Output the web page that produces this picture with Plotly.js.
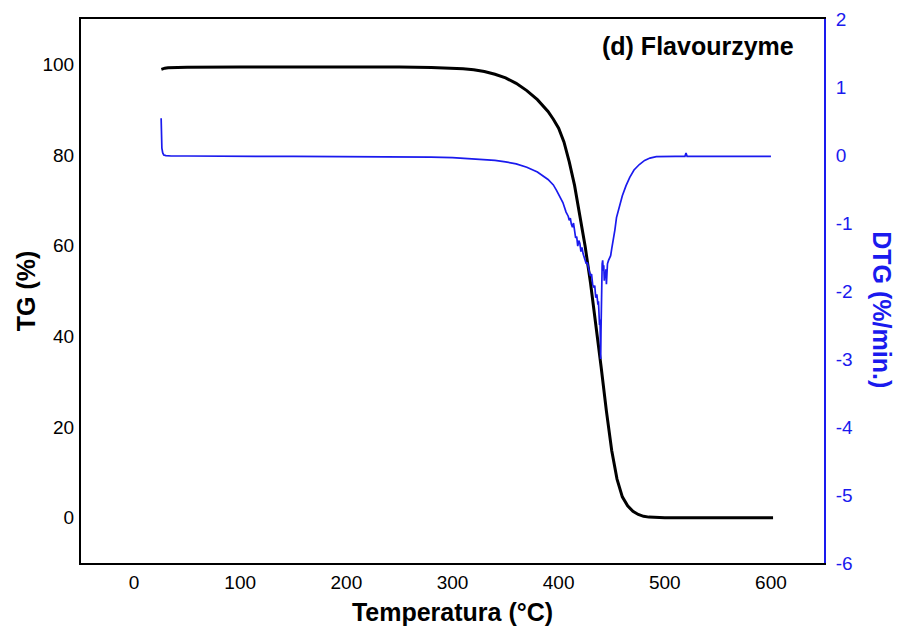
<!DOCTYPE html>
<html>
<head>
<meta charset="utf-8">
<script src="https://cdn.plot.ly/plotly-3.0.1.min.js"></script>
<style>html,body{margin:0;padding:0;background:#fff;}#chart{width:898px;height:637px;}</style>
</head>
<body>
<div id="chart"></div>
<script>
// TG curve (temperature °C, mass %)
const tgTemp = [25.7, 27, 29, 32, 36, 50, 100, 150, 200, 250, 280, 300, 310, 320, 330, 340, 350, 360, 370, 380, 385, 390, 395, 400, 405, 410, 415, 420, 425, 430, 435, 440, 445, 450, 455, 460, 465, 470, 475, 480, 485, 490, 500, 550, 602];
const tgVal  = [98.9, 99.05, 99.15, 99.25, 99.3, 99.35, 99.4, 99.45, 99.45, 99.4, 99.3, 99.15, 99.0, 98.8, 98.4, 97.8, 97.0, 95.8, 94.2, 92.2, 91.0, 89.6, 87.9, 85.9, 82.9, 78.5, 73.3, 67.0, 59.8, 51.8, 43.0, 33.3, 23.5, 14.8, 8.5, 4.6, 2.6, 1.4, 0.7, 0.3, 0.12, 0.03, 0.0, 0.0, 0.0];

// DTG curve (temperature °C, %/min.)
const dtgTemp = [25.5, 25.6, 25.8, 26.2, 27, 28, 30, 35, 50, 80, 100, 130, 150, 180, 200, 230, 250, 270, 280, 300, 320, 340, 350, 360, 370, 380, 390, 395, 398, 401, 404, 407, 409, 410, 411, 412, 413, 414, 415, 416, 417, 418, 419, 420, 421, 422, 423, 424, 425, 426, 427, 428, 429, 430, 431, 432, 433, 434, 435, 436, 437, 437.5, 438, 438.5, 439, 439.3, 439.6, 439.9, 440.2, 440.5, 441, 441.5, 442, 442.5, 443, 443.5, 444, 444.5, 445, 445.5, 446, 447, 448, 449, 450, 451, 452, 453, 454.5, 456, 458, 460, 463.5, 467, 471, 476, 481, 486, 492, 500, 510, 519, 520, 521, 530, 550, 570, 600];
const dtgVal  = [0.54, 0.45, 0.25, 0.1, 0.03, 0.0, -0.01, -0.015, -0.015, -0.02, -0.015, -0.02, -0.02, -0.02, -0.02, -0.025, -0.025, -0.03, -0.03, -0.04, -0.055, -0.08, -0.1, -0.13, -0.18, -0.25, -0.36, -0.44, -0.52, -0.61, -0.7, -0.84, -0.9, -0.96, -0.93, -1.02, -1.06, -1.0, -1.12, -1.22, -1.2, -1.34, -1.26, -1.3, -1.42, -1.36, -1.45, -1.5, -1.56, -1.6, -1.58, -1.68, -1.72, -1.78, -1.75, -1.9, -1.95, -1.92, -2.1, -2.05, -2.2, -2.15, -2.35, -2.5, -2.42, -2.7, -3.0, -2.6, -2.0, -1.66, -1.6, -1.55, -1.7, -1.62, -1.85, -1.72, -1.8, -1.68, -1.9, -1.75, -1.6, -1.55, -1.52, -1.48, -1.38, -1.3, -1.2, -1.1, -0.92, -0.82, -0.7, -0.6, -0.45, -0.33, -0.22, -0.14, -0.08, -0.045, -0.025, -0.02, -0.02, -0.02, 0.03, -0.02, -0.02, -0.02, -0.02, -0.02];

const xTicks = [0, 100, 200, 300, 400, 500, 600];
const tgTicks = [0, 20, 40, 60, 80, 100];
const dtgTicks = [-6, -5, -4, -3, -2, -1, 0, 1, 2];

const FONT = 'Liberation Sans, Arial, sans-serif';
const BLUE = '#1a1aee';

const traces = [
  {x: tgTemp, y: tgVal, type: 'scatter', mode: 'lines', name: 'TG',
   line: {color: '#000000', width: 3}, yaxis: 'y'},
  {x: dtgTemp, y: dtgVal, type: 'scatter', mode: 'lines', name: 'DTG',
   line: {color: BLUE, width: 1.7}, yaxis: 'y2'}
];

const layout = {
  width: 898, height: 637,
  margin: {l: 81, r: 74, t: 19, b: 74},
  paper_bgcolor: '#ffffff', plot_bgcolor: '#ffffff',
  showlegend: false,
  font: {family: FONT, size: 19, color: '#000'},
  xaxis: {
    range: [-50, 650], tickvals: xTicks, ticktext: xTicks.map(String),
    showgrid: false, zeroline: false, showline: true, linecolor: '#000', linewidth: 2,
    mirror: true, ticks: 'outside', ticklen: 1, tickcolor: 'rgba(0,0,0,0)',
    tickfont: {family: FONT, size: 19, color: '#000'},
    title: {text: '<b>Temperatura (°C)</b>', font: {family: FONT, size: 25, color: '#000'}, standoff: 12}
  },
  yaxis: {
    range: [-10, 110], tickvals: tgTicks, ticktext: tgTicks.map(String),
    showgrid: false, zeroline: false, showline: true, linecolor: '#000', linewidth: 2,
    ticks: 'outside', ticklen: 1, tickcolor: 'rgba(0,0,0,0)',
    tickfont: {family: FONT, size: 19, color: '#000'},
    title: {text: '<b>TG (%)</b>', font: {family: FONT, size: 25, color: '#000'}, standoff: 0}
  },
  yaxis2: {
    range: [-6, 2], tickvals: dtgTicks, ticktext: dtgTicks.map(String),
    overlaying: 'y', side: 'right',
    showgrid: false, zeroline: false, showline: true, linecolor: BLUE, linewidth: 2,
    ticks: 'outside', ticklen: 6, tickcolor: 'rgba(0,0,0,0)',
    tickfont: {family: FONT, size: 19, color: BLUE}
  },
  annotations: [
    {text: '<b>(d) Flavourzyme</b>', xref: 'paper', yref: 'paper', x: 0.962, y: 0.95,
     xanchor: 'right', yanchor: 'middle', showarrow: false,
     font: {family: FONT, size: 25, color: '#000'}},
    {text: '<b>DTG (%/min.)</b>', xref: 'paper', yref: 'paper', x: 1.077, y: 0.466,
     xanchor: 'center', yanchor: 'middle', showarrow: false, textangle: 90,
     font: {family: FONT, size: 25, color: BLUE}}
  ]
};

Plotly.newPlot('chart', traces, layout, {displayModeBar: false, staticPlot: true});
</script>
</body>
</html>
